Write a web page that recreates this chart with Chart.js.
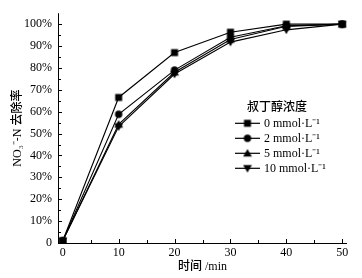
<!DOCTYPE html>
<html><head><meta charset="utf-8">
<script src="https://cdn.jsdelivr.net/npm/chart.js@4"></script>
<style>html,body{margin:0;padding:0;background:#fff}#wrap{width:362px;height:278px}</style>
</head><body><div id="wrap"><canvas id="c" width="362" height="278"></canvas></div>
<script>
const times = [0, 10, 20, 30, 40, 50];
const series0 = [1, 66.5, 87, 96.3, 100, 100];
const series2 = [1, 58.8, 79, 94, 99.3, 100];
const series5 = [1, 54.2, 78, 93, 99, 100];
const series10 = [1, 53.2, 77.2, 91.8, 97.4, 100];
const seriesLabels = ['0 mmol·L⁻¹', '2 mmol·L⁻¹', '5 mmol·L⁻¹', '10 mmol·L⁻¹'];
const seriesShapes = ['rect', 'circle', 'triangle', 'triangleDown'];
const legendTitle = '叔丁醇浓度';
const xTitle = '时间 /min';
const yTitle = 'NO₃⁻-N 去除率';
const xTicks = [0, 10, 20, 30, 40, 50];
const yTicks = [0, 10, 20, 30, 40, 50, 60, 70, 80, 90, 100];

const FONT = "'Liberation Serif','Noto Sans CJK SC',serif";

function pts(arr){ return times.map((t,i)=>({x:t,y:arr[i]})); }

function makeShape(kind){
  const s = 10;
  const cv = document.createElement('canvas'); cv.width = s; cv.height = s;
  const g = cv.getContext('2d'); g.fillStyle = '#000';
  g.beginPath();
  if (kind==='rect'){ g.rect(1.5,1.5,7,7); }
  else if (kind==='circle'){ g.arc(5,5,3.7,0,Math.PI*2); }
  else if (kind==='triangle'){ g.moveTo(5,0.8); g.lineTo(9.4,8.2); g.lineTo(0.6,8.2); g.closePath(); }
  else { g.moveTo(0.6,1.8); g.lineTo(9.4,1.8); g.lineTo(5,9.2); g.closePath(); }
  g.fill();
  return cv;
}
const shapes = seriesShapes.map(makeShape);
const allSeries = [series0, series2, series5, series10];

const datasets = allSeries.map((s,i)=>({
  label: seriesLabels[i],
  data: pts(s),
  borderColor: '#000',
  borderWidth: 1.1,
  pointStyle: shapes[i],
  pointRadius: 5,
  tension: 0,
  fill: false
}));

const axisPlugin = {
  id: 'axisPlugin',
  afterDraw(chart){
    const ctx = chart.ctx, xs = chart.scales.x, ys = chart.scales.y, a = chart.chartArea;
    ctx.save();
    ctx.strokeStyle = '#000'; ctx.lineWidth = 1;
    ctx.beginPath();
    ctx.moveTo(a.left+0.5, a.top); ctx.lineTo(a.left+0.5, a.bottom+0.5); ctx.lineTo(a.right, a.bottom+0.5);
    ctx.stroke();
    ctx.beginPath();
    for (let v=0; v<=100; v+=5){
      const y = Math.round(ys.getPixelForValue(v))+0.5;
      const len = v%10===0 ? 4 : 3;
      ctx.moveTo(a.left, y); ctx.lineTo(a.left+len, y);
    }
    for (let v=0; v<=50; v+=5){
      const x = Math.round(xs.getPixelForValue(v))+0.5;
      const len = v%10===0 ? 4 : 3;
      ctx.moveTo(x, a.bottom); ctx.lineTo(x, a.bottom-len);
    }
    ctx.stroke();
    // legend
    const lx = 235, lineW = 25;
    ctx.fillStyle = '#000';
    ctx.font = "500 12px " + FONT;
    ctx.textAlign = 'center'; ctx.textBaseline = 'middle';
    ctx.fillText(legendTitle, 277, 108);
    ctx.font = "12px " + FONT;
    ctx.textAlign = 'left';
    const rows = [123.3, 138.3, 153.3, 168.3];
    seriesLabels.forEach((lab,i)=>{
      const y = rows[i];
      ctx.beginPath(); ctx.lineWidth = 1.2;
      ctx.moveTo(lx, y); ctx.lineTo(lx+lineW, y); ctx.stroke();
      ctx.drawImage(shapes[i], lx+lineW/2-5, y-5);
      ctx.fillText(lab, lx+lineW+4, y+0.5);
    });
    ctx.restore();
  }
};

new Chart(document.getElementById('c'), {
  type: 'line',
  data: { datasets },
  options: {
    responsive: false,
    animation: false,
    devicePixelRatio: 1,
    layout: { padding: { top: 10, right: 15, left: 0, bottom: 0 } },
    plugins: { legend: { display: false }, tooltip: { enabled: false } },
    scales: {
      x: {
        type: 'linear', min: -0.85, max: 50.85,
        afterBuildTicks(s){ s.ticks = xTicks.map(v=>({value:v})); },
        afterFit(s){ s.height = 35; },
        grid: { display: false, drawTicks: false },
        border: { display: false },
        ticks: { color: '#000', font: { family: FONT, size: 12 }, padding: 3, maxRotation: 0, autoSkip: false },
        title: { display: true, text: xTitle, color: '#000', font: { family: FONT, size: 12, weight: '500' }, padding: { top: 0, bottom: 4 } }
      },
      y: {
        min: 0, max: 105,
        afterBuildTicks(s){ s.ticks = yTicks.map(v=>({value:v})); },
        afterFit(s){ s.width = 58; },
        grid: { display: false, drawTicks: false },
        border: { display: false },
        ticks: { color: '#000', font: { family: FONT, size: 12 }, padding: 6, autoSkip: false,
          callback: v => v===0 ? '0' : v + '%' },
        title: { display: true, text: yTitle, color: '#000', font: { family: FONT, size: 12, weight: '500' }, padding: { top: 11, bottom: 0 } }
      }
    }
  },
  plugins: [axisPlugin]
});
</script></body></html>
